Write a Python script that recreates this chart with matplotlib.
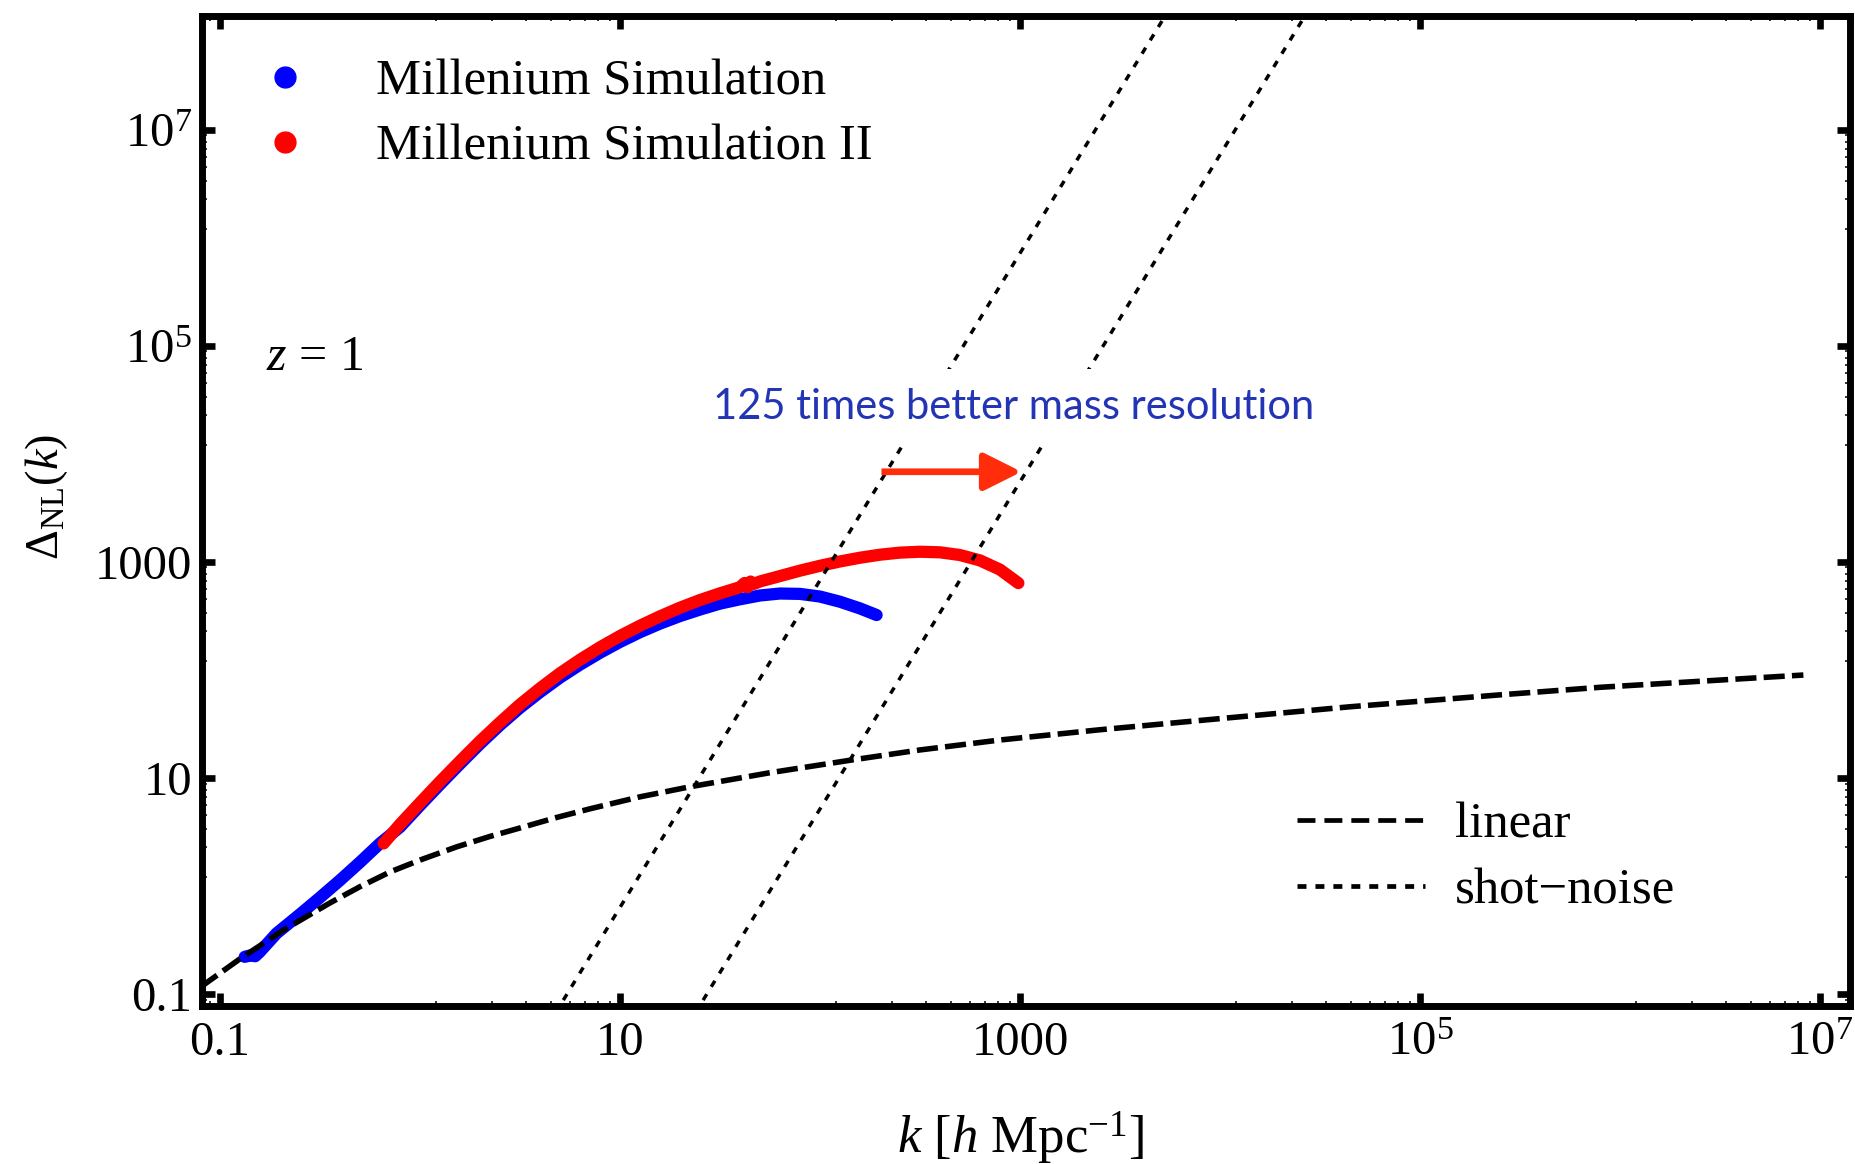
import matplotlib
matplotlib.use('Agg')
import matplotlib.pyplot as plt
from matplotlib.lines import Line2D
from matplotlib.patches import FancyArrowPatch
from matplotlib.ticker import FixedLocator, FixedFormatter, NullFormatter

plt.rcParams['font.family'] = ['Liberation Serif', 'DejaVu Serif']
plt.rcParams['mathtext.fontset'] = 'custom'
plt.rcParams['mathtext.rm'] = 'Liberation Serif'
plt.rcParams['mathtext.it'] = 'Liberation Serif:italic'
plt.rcParams['mathtext.bf'] = 'Liberation Serif:bold'

# ---------------- data ----------------
# Millenium Simulation
k_ms = [0.133, 0.142, 0.150, 0.158, 0.192, 0.251, 0.316, 0.398, 0.501, 0.631,
        0.794, 1.0, 1.259, 1.585, 1.995, 2.512, 3.162, 3.981, 5.012, 6.31,
        7.943, 10.0, 12.59, 15.85, 19.95, 25.12, 31.62, 39.81, 50.12, 63.1,
        79.43, 100, 125.9, 158.5, 192]
d_ms = [0.221, 0.228, 0.224, 0.245, 0.365, 0.547, 0.782, 1.13, 1.66, 2.48,
        3.51, 5.56, 8.71, 13.5, 20.7, 30.9, 44.7, 62.4, 85.1, 112.2,
        144.5, 182, 224, 269, 316, 363, 412, 452, 490, 511,
        507, 479, 429, 372, 323]

# Millenium Simulation II
k_ms2 = [0.658, 0.794, 1.0, 1.259, 1.585, 1.995, 2.512, 3.162, 3.981, 5.012,
         6.31, 7.943, 10.0, 12.59, 15.85, 19.95, 25.12, 31.62, 39.81, 42.0,
         43.5, 45.0, 46.5, 50.12, 63.1, 79.43, 100, 125.9, 158.5, 199.5,
         251.2, 316.2, 398.1, 501.2, 631, 794.3, 982]
d_ms2 = [2.48, 3.72, 5.89, 9.25, 14.3, 21.9, 32.7, 47.9, 67.6, 93.3,
         124.5, 162.2, 206.5, 257, 314, 377.6, 444.6, 512.9, 584.8, 640,
         585, 660, 625, 660.7, 741.3, 831.8, 922.6, 1012, 1096, 1169,
         1222, 1245, 1230, 1161, 1035, 851, 638]

# linear theory
k_lin = [0.0794, 0.126, 0.211, 0.355, 0.501, 0.708, 1.0, 1.53, 2.24, 3.29,
         4.79, 7.08, 12.6, 22.4, 56.2, 141, 316, 794, 2512, 1e4, 44700,
         2.51e5, 7.94e5, 8.26e6]
d_lin = [0.115, 0.212, 0.398, 0.698, 0.986, 1.35, 1.74, 2.31, 2.88, 3.52,
         4.30, 5.19, 6.70, 8.30, 11.2, 14.6, 18.2, 22.5, 28.0, 35.5, 45.7,
         58.9, 69.2, 89.9]

# shot-noise (two straight lines in log-log, end points)
k_shot_ms = [5.21, 5210]
k_shot_ms2 = [26.05, 26050]
d_shot = [0.0879, 1.07e8]

major_ticks = [0.1, 10, 1000, 1e5, 1e7]
major_labels = ['0.1', '10', '1000', r'$10^{5}$', r'$10^{7}$']

legend_sim = ['Millenium Simulation', 'Millenium Simulation II']
legend_theory = ['linear', 'shot\u2212noise']

# ---------------- figure ----------------
fig = plt.figure(figsize=(18.55, 11.64), dpi=100)
ax = fig.add_axes([0.1087, 0.1357, 0.9973 - 0.1087, 0.9863 - 0.1357])
ax.set_xscale('log')
ax.set_yscale('log')
ax.set_xlim(10 ** -1.0915, 10 ** 7.15)
ax.set_ylim(10 ** -1.111, 10 ** 8.056)

BLUE = '#0000ff'
RED = '#ff0000'

ax.plot(k_ms, d_ms, color=BLUE, lw=8.8, solid_capstyle='round',
        solid_joinstyle='round', zorder=2)
ax.plot(k_ms2, d_ms2, color=RED, lw=8.8, solid_capstyle='round',
        solid_joinstyle='round', zorder=2.1)

ax.plot(k_lin, d_lin, color='black', lw=4.0, dashes=(3.8, 1.3), zorder=3)
ax.plot(k_shot_ms, d_shot, color='black', lw=2.5, dashes=(2.0, 2.5), zorder=3)
ax.plot(k_shot_ms2, d_shot, color='black', lw=2.5, dashes=(2.0, 2.5), zorder=3)

# ticks: majors every two decades, minors linearly spaced in between
minor = []
for lo, hi in zip([0.001] + major_ticks, major_ticks + [1e9]):
    step = (hi - lo) / 9.0
    minor += [lo + j * step for j in range(1, 9)]
for axis in (ax.xaxis, ax.yaxis):
    axis.set_major_locator(FixedLocator(major_ticks))
    axis.set_major_formatter(FixedFormatter(major_labels))
    axis.set_minor_locator(FixedLocator(minor))
    axis.set_minor_formatter(NullFormatter())

ax.tick_params(which='major', direction='in', length=9.2, width=4.8,
               top=True, right=True, labelsize=35)
ax.tick_params(which='minor', direction='in', length=3.8, width=1.1,
               top=True, right=True)
ax.tick_params(axis='x', which='major', pad=11)
ax.tick_params(axis='y', which='major', pad=7)
for s in ax.spines.values():
    s.set_linewidth(5)

ax.set_xlabel(r'$k$ [$h$ Mpc$^{-1}$]', fontsize=38)
ax.xaxis.label.set_verticalalignment('center')
ax.xaxis.set_label_coords(0.497, -0.134)
ax.set_ylabel(r'$\Delta_{\mathrm{NL}}(k)$', fontsize=33.5)
ax.yaxis.label.set_verticalalignment('center')
ax.yaxis.set_label_coords(-0.0939, 0.514)

# annotations
ax.text(0.0393, 0.655, r'$z$ = 1', transform=ax.transAxes, fontsize=36,
        ha='left', va='center')

ax.text(933, 27200, '125 times better mass resolution', family='Lato',
        fontsize=30, color='#2334b4', ha='center', va='center', zorder=4,
        bbox=dict(boxstyle='square,pad=0.45', facecolor='white',
                  edgecolor='none'))

arr = FancyArrowPatch((203, 6850), (1019, 6850),
                      arrowstyle='-|>,head_length=23,head_width=11.5',
                      mutation_scale=1, color='#ff2d0a', lw=4.8,
                      shrinkA=0, shrinkB=0, capstyle='butt', zorder=4)
ax.add_patch(arr)

# legends
FS_LEG = 36.5
h_sim = [Line2D([], [], ls='none', marker='o', markersize=15, color=BLUE),
         Line2D([], [], ls='none', marker='o', markersize=15, color=RED)]
leg1 = ax.legend(h_sim, legend_sim, loc='upper left',
                 bbox_to_anchor=(259.6 / 1855, 1 - 59 / 1164),
                 bbox_transform=fig.transFigure, frameon=False,
                 fontsize=FS_LEG, handlelength=1.0, handletextpad=1.296,
                 labelspacing=0.36, borderpad=0, borderaxespad=0)
ax.add_artist(leg1)

h_th = [Line2D([], [], color='black', lw=3.4, dashes=(3.8, 1.9)),
        Line2D([], [], color='black', lw=3.4, dashes=(1.9, 1.9))]
leg2 = ax.legend(h_th, legend_theory, loc='upper left',
                 bbox_to_anchor=(1297 / 1855, 1 - 802 / 1164),
                 bbox_transform=fig.transFigure, frameon=False,
                 fontsize=FS_LEG, handlelength=2.52, handletextpad=0.59,
                 labelspacing=0.38, borderpad=0, borderaxespad=0)

fig.savefig('out.png', dpi=100)
